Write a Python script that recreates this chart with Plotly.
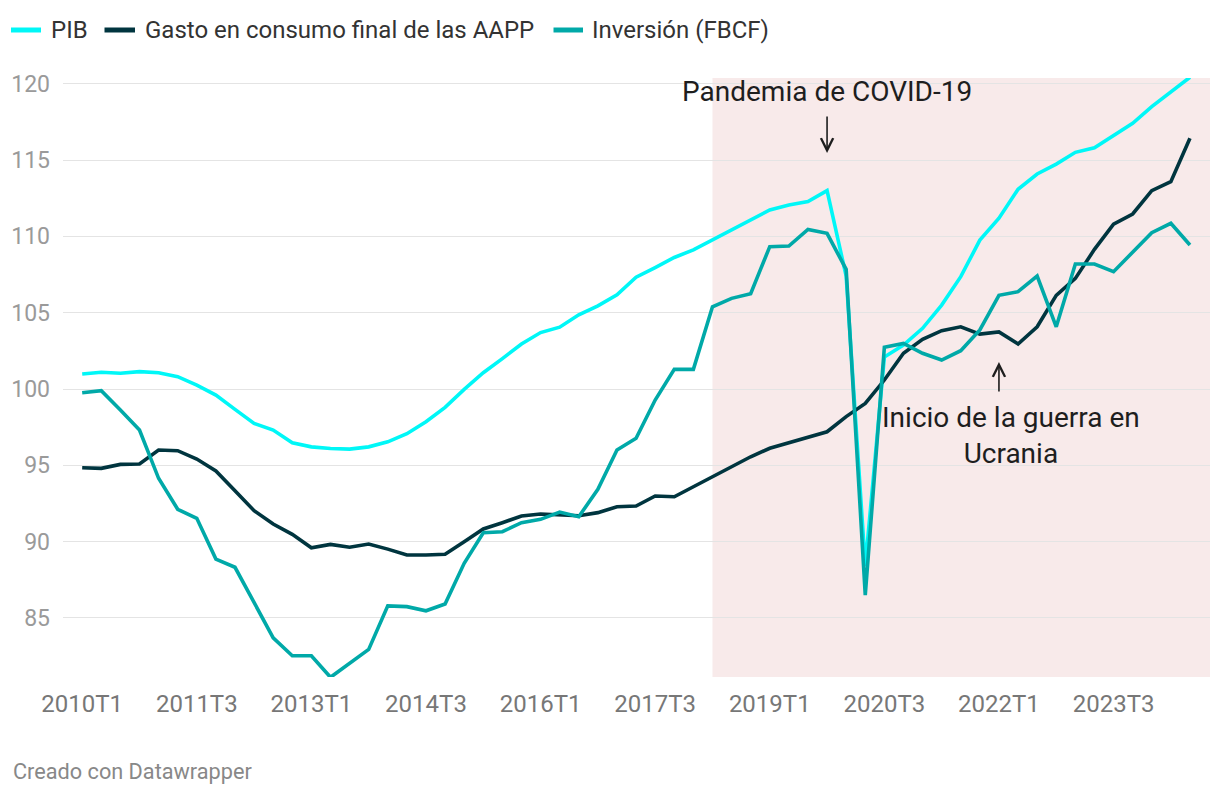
import plotly.graph_objects as go

# ---------------- data ----------------
quarters = [f"{y}T{q}" for y in range(2010, 2025) for q in range(1, 5)][:59]

pib = [100.98, 101.1, 101.03, 101.14, 101.07, 100.81, 100.26, 99.6, 98.67, 97.75,
       97.31, 96.48, 96.21, 96.1, 96.06, 96.21, 96.54, 97.07, 97.86, 98.8,
       99.98, 101.07, 101.99, 102.95, 103.7, 104.05, 104.86, 105.45, 106.17, 107.33,
       107.96, 108.62, 109.12, 109.77, 110.38, 111.03, 111.73, 112.06, 112.28, 113.0,
       107.4, 88.4, 102.1, 102.88, 103.98, 105.5, 107.36, 109.76, 111.19, 113.09,
       114.09, 114.74, 115.51, 115.81, 116.58, 117.41, 118.5, 119.48, 120.43]

gasto = [94.84, 94.80, 95.06, 95.09, 96.0, 95.96, 95.41, 94.63, 93.34, 92.03,
         91.15, 90.48, 89.6, 89.82, 89.63, 89.84, 89.51, 89.12, 89.12, 89.17,
         90.0, 90.83, 91.24, 91.68, 91.81, 91.77, 91.7, 91.9, 92.29, 92.33,
         92.99, 92.94, 93.6, 94.23, 94.89, 95.56, 96.12, 96.49, 96.81, 97.2,
         98.19, 99.06, 100.59, 102.34, 103.26, 103.82, 104.08, 103.6, 103.74, 102.95,
         104.08, 106.14, 107.25, 109.15, 110.81, 111.47, 113.0, 113.59, 116.43]

inversion = [99.76, 99.89, 98.62, 97.31, 94.15, 92.12, 91.53, 88.86, 88.32, 85.96,
             83.7, 82.52, 82.52, 81.11, 82.06, 82.94, 85.79, 85.74, 85.47, 85.91,
             88.58, 90.58, 90.65, 91.24, 91.46, 91.94, 91.63, 93.43, 96.0, 96.77,
             99.28, 101.29, 101.29, 105.39, 105.94, 106.25, 109.33, 109.37, 110.46, 110.2,
             107.84, 86.5, 102.73, 102.99, 102.34, 101.9, 102.51, 103.87, 106.14, 106.38,
             107.4, 104.08, 108.19, 108.19, 107.69, 109.0, 110.24, 110.86, 109.44]

series_names = ["PIB", "Gasto en consumo final de las AAPP", "Inversión (FBCF)"]
series_colors = ["#00f7f7", "#00353f", "#00a9a8"]

tick_labels = ["2010T1", "2011T3", "2013T1", "2014T3", "2016T1",
               "2017T3", "2019T1", "2020T3", "2022T1", "2023T3"]
y_ticks = [85, 90, 95, 100, 105, 110, 115, 120]

highlight_start = "2018T2"
covid_q = "2019T4"
war_q = "2022T1"

FONT = "Roboto"

# ---------------- figure ----------------
fig = go.Figure()
for name, vals, col in zip(series_names, [pib, gasto, inversion], series_colors):
    fig.add_trace(go.Scatter(x=quarters, y=vals, mode="lines", name=name,
                             line=dict(color=col, width=3.6), showlegend=False,
                             hoverinfo="x+y+name"))

# page body has an 8px default margin -> figure is offset by OFF px
OFF = 8
W, H = 1220 - OFF, 794 - OFF
ML, MR, MT, MB = 63 - OFF, 10, 78 - OFF, 117
PW = W - ML - MR
PH = H - MT - MB

fig.update_layout(
    width=W, height=H,
    margin=dict(l=ML, r=MR, t=MT, b=MB, pad=0, autoexpand=False),
    paper_bgcolor="white", plot_bgcolor="white",
    font=dict(family=FONT, color="#333333"),
    xaxis=dict(type="category", categoryorder="array", categoryarray=quarters,
               range=[-1.005, 59.05], showgrid=False, zeroline=False, showline=False,
               tickmode="array", tickvals=tick_labels, ticktext=tick_labels,
               ticks="", tickfont=dict(size=24, color="#777777", family=FONT),
               ticklabelstandoff=10, automargin=False),
    yaxis=dict(range=[81.13, 120.38], tickmode="array", tickvals=y_ticks,
               showgrid=True, gridcolor="#e4e4e4", gridwidth=1, zeroline=False,
               showline=False, ticks="", tickfont=dict(size=23, color="#9a9a9a", family=FONT),
               ticklabelstandoff=12, automargin=False),
)

# highlighted period
fig.add_shape(type="rect", xref="x", yref="paper", x0=quarters.index(highlight_start),
              x1=59.05, y0=0, y1=1, fillcolor="#f8eaea", line=dict(width=0), layer="below")

# convert screenshot pixel positions to paper coordinates
def px_x(px):
    return (px - OFF - ML) / PW

def px_y(py):
    return (H - MB - (py - OFF)) / PH

# legend (manual)
legend_items = [(11, 41, 49), (104.5, 135, 143), (553.5, 583, 590)]
for (x0, x1, tx), name, col in zip(legend_items, series_names, series_colors):
    fig.add_shape(type="line", xref="paper", yref="paper", x0=px_x(x0), x1=px_x(x1),
                  y0=px_y(30), y1=px_y(30), line=dict(color=col, width=5))
    fig.add_annotation(xref="paper", yref="paper", x=px_x(tx), y=px_y(30), text=name,
                       showarrow=False, xanchor="left", yanchor="middle",
                       font=dict(size=24, color="#333333", family=FONT))

# annotations
ann_color = "#1e1e1e"
fig.add_annotation(xref="x", yref="paper", x=covid_q, y=px_y(91),
                   text="Pandemia de COVID-19", showarrow=False,
                   xanchor="center", yanchor="middle",
                   font=dict(size=28, color=ann_color, family=FONT))
fig.add_annotation(xref="x", yref="paper", x=covid_q, y=px_y(153), text="",
                   showarrow=True, ax=0, ay=-38, arrowhead=5, arrowsize=1.5,
                   arrowwidth=1.6, arrowcolor=ann_color)

fig.add_annotation(xref="paper", yref="paper", x=px_x(1011), y=px_y(435),
                   text="Inicio de la guerra en<br>Ucrania", showarrow=False,
                   xanchor="center", yanchor="middle", align="center",
                   font=dict(size=28, color=ann_color, family=FONT))
fig.add_annotation(xref="x", yref="paper", x=war_q, y=px_y(362), text="",
                   showarrow=True, ax=0, ay=31, arrowhead=5, arrowsize=1.5,
                   arrowwidth=1.6, arrowcolor=ann_color)

# footer
fig.add_annotation(xref="paper", yref="paper", x=px_x(11), y=px_y(771),
                   text="Creado con Datawrapper", showarrow=False,
                   xanchor="left", yanchor="middle",
                   font=dict(size=21.7, color="#888888", family=FONT))

fig.write_html("out.html")
